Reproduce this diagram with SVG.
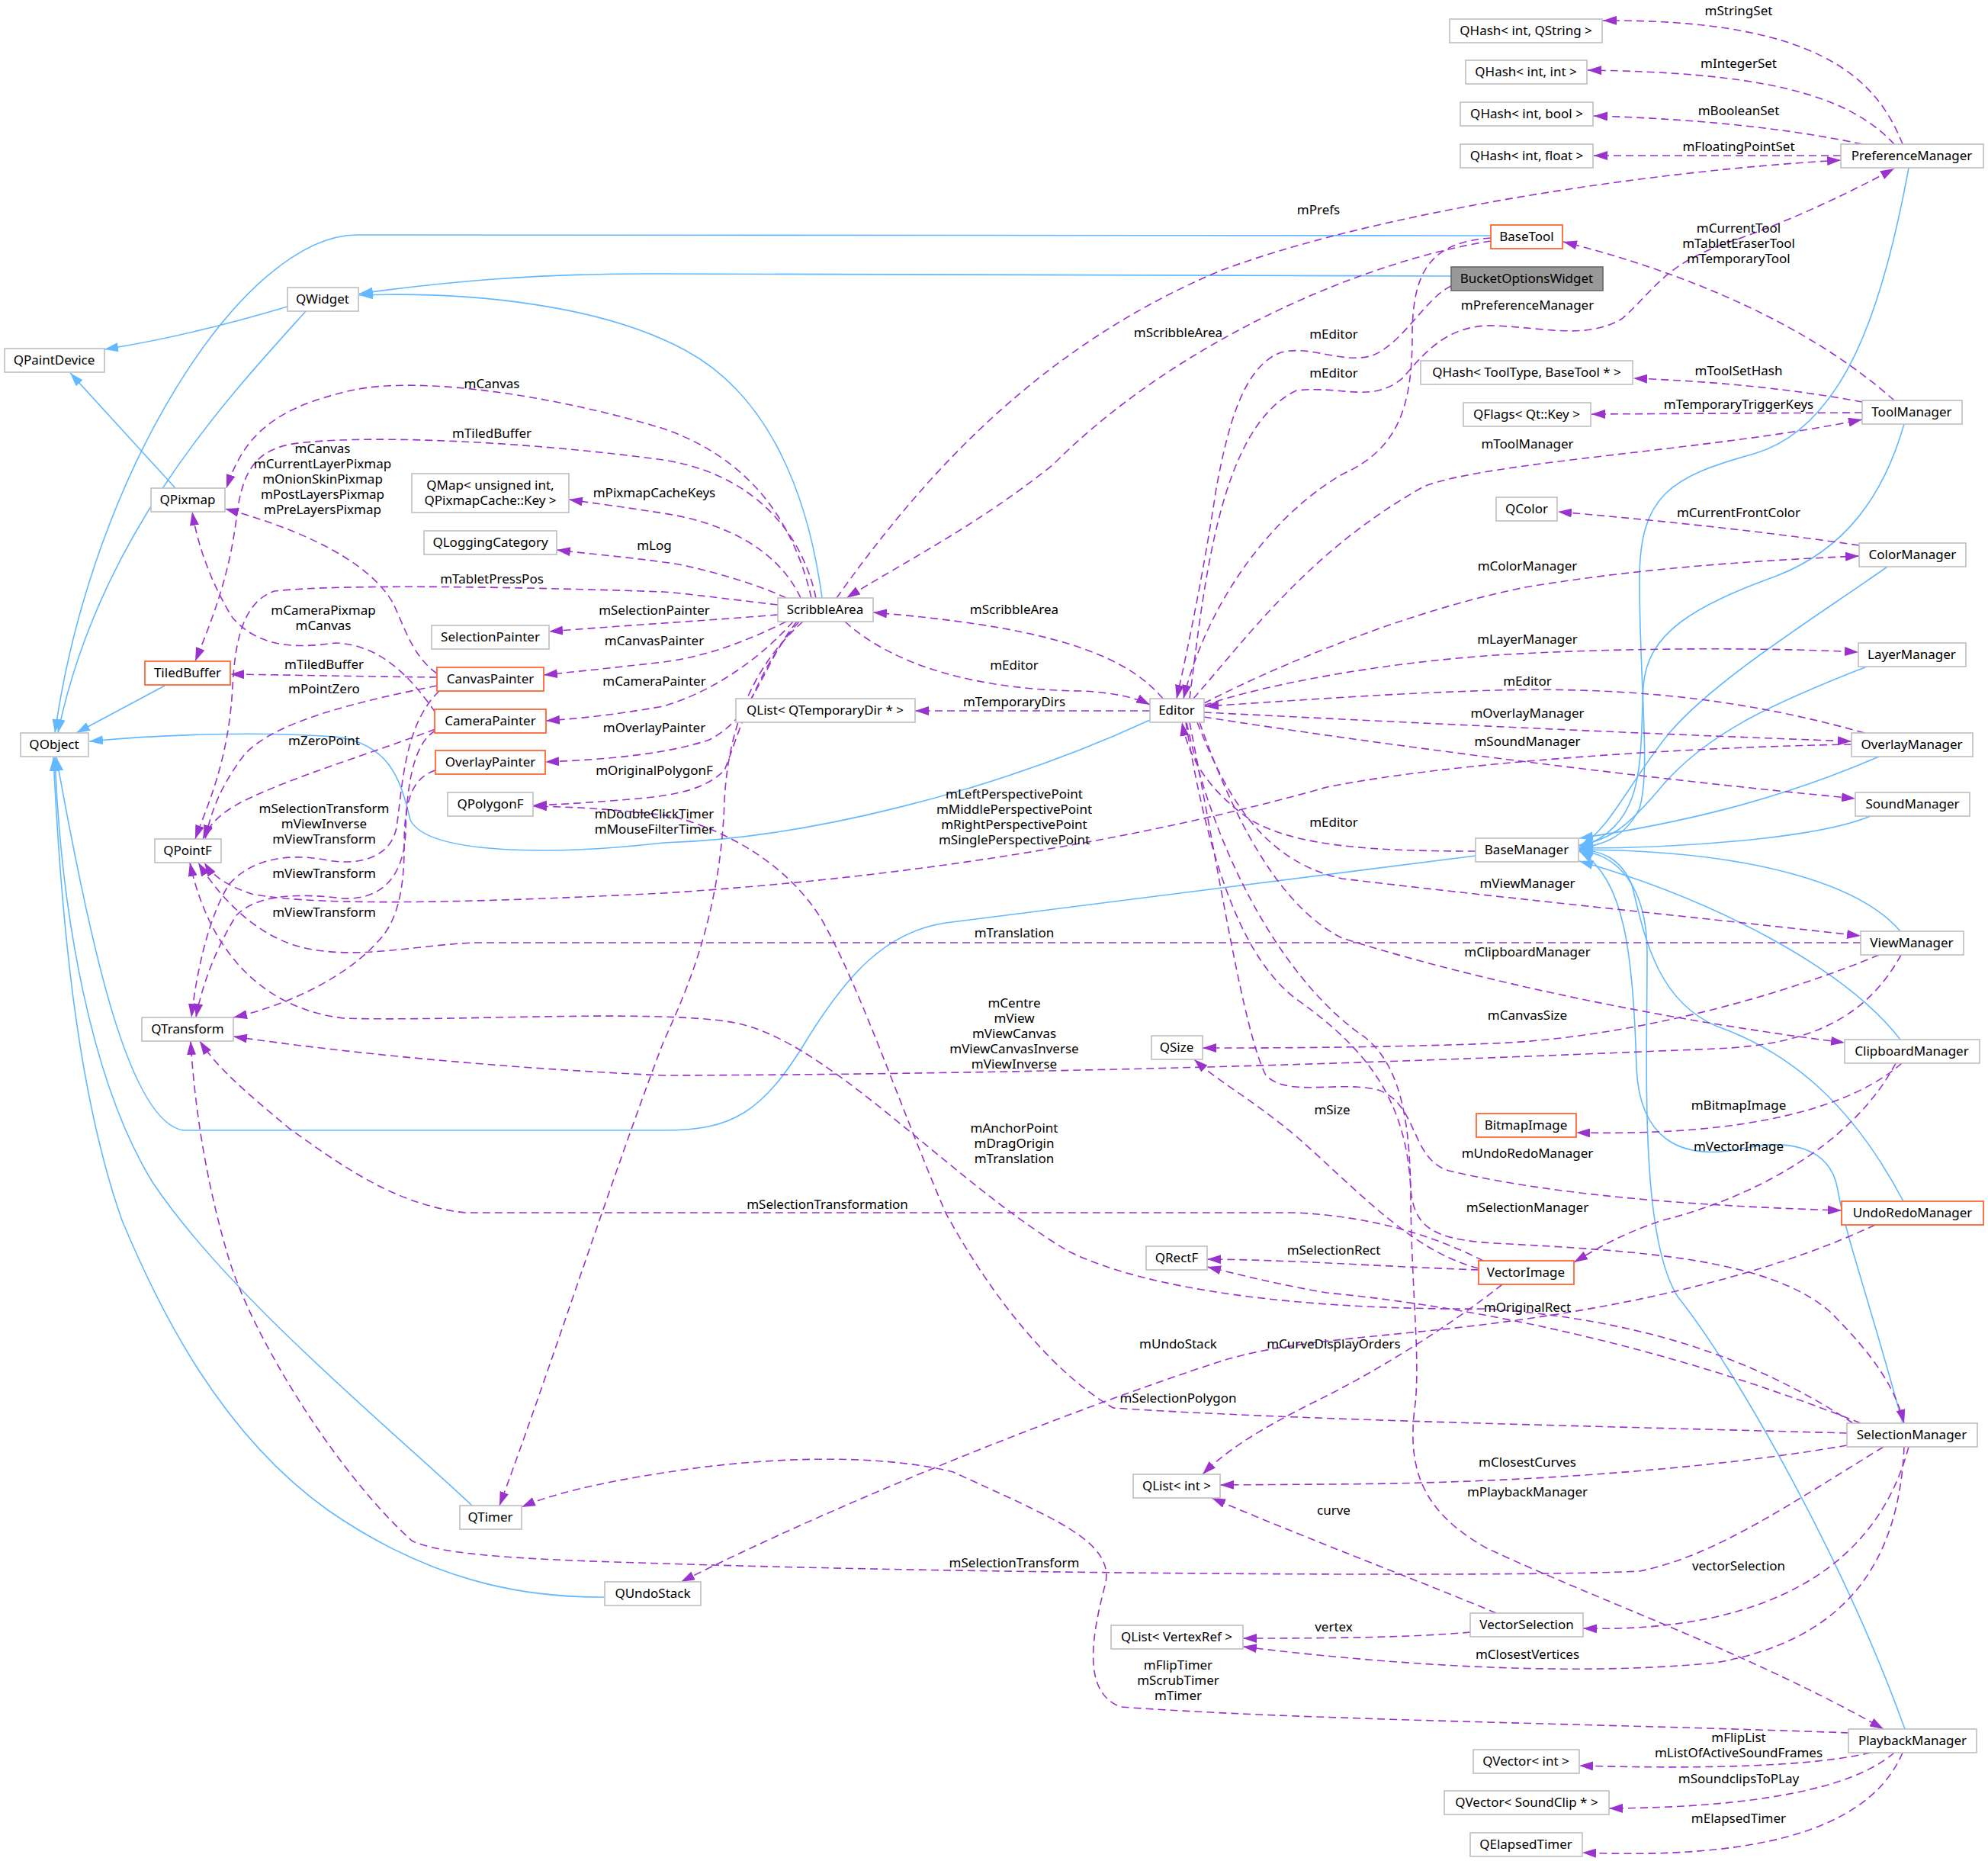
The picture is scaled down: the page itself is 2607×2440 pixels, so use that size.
<svg xmlns="http://www.w3.org/2000/svg" width="2607" height="2440" viewBox="0 0 2607 2440">
<style>
.bg{fill:#ffffff}
.n rect{fill:#ffffff;stroke:#bfbfbf;stroke-width:1.6}
.o rect{fill:#ffffff;stroke:#ff6633;stroke-width:1.8}
.g rect{fill:#999999;stroke:#666666;stroke-width:1.6}
text{font-family:"Noto Sans","Liberation Sans",sans-serif;font-size:17px;fill:#000000;text-anchor:middle}
.i{fill:none;stroke:#63b8ff;stroke-width:1.6}
.u{fill:none;stroke:#9a32cd;stroke-width:1.6;stroke-dasharray:10,6}
</style>
<defs>
<marker id="ai" markerUnits="userSpaceOnUse" markerWidth="18" markerHeight="12" viewBox="0 0 18 12" refX="18" refY="6" orient="auto"><path d="M0,0 L18,6 L0,12 z" fill="#63b8ff"/></marker>
<marker id="au" markerUnits="userSpaceOnUse" markerWidth="18" markerHeight="12" viewBox="0 0 18 12" refX="18" refY="6" orient="auto"><path d="M0,0 L18,6 L0,12 z" fill="#9a32cd"/></marker>
</defs>
<rect class="bg" x="0" y="0" width="2607" height="2440"/>
<g id="connectors">
<g id="inherit" marker-end="url(#ai)">
<path class="i" d="M377,402 C300,425 220,445 137,458"/>
<path class="i" d="M401,408 C300,520 130,700 76,961"/>
<path class="i" d="M1955,309 L470,308 C320,306 120,620 72,961"/>
<path class="i" d="M1903,362 L870,359 C700,358 580,370 471,385"/>
<path class="i" d="M1078,784 C1060,650 1010,520 900,460 C790,400 620,382 471,387"/>
<path class="i" d="M216,899 L100,961"/>
<path class="i" d="M230,640 L92,489"/>
<path class="i" d="M1508,944 C1300,1040 1050,1100 870,1105 C720,1122 560,1120 538,1075 C525,1020 510,975 440,966 C330,958 200,964 117,972"/>
<path class="i" d="M1935,1122 L1240,1210 C1160,1222 1110,1280 1060,1360 C1000,1460 960,1482 870,1482 L240,1482 C170,1470 120,1250 74,993"/>
<path class="i" d="M619,1974 C520,1880 300,1700 200,1550 C120,1420 80,1200 72,993"/>
<path class="i" d="M793,2094 C680,2095 560,2070 430,1980 C290,1880 210,1720 160,1600 C100,1430 80,1200 70,993"/>
<path class="i" d="M2503,220 C2470,400 2420,560 2300,595 C2190,625 2150,650 2150,760 C2150,900 2165,1010 2150,1060 C2130,1100 2100,1108 2071,1112"/>
<path class="i" d="M2497,556 C2470,650 2420,720 2330,755 C2220,795 2160,830 2155,900 C2150,1000 2160,1080 2071,1112"/>
<path class="i" d="M2475,743 C2380,810 2250,890 2190,960 C2140,1020 2110,1090 2071,1110"/>
<path class="i" d="M2448,874 C2330,920 2240,960 2180,1030 C2130,1090 2110,1100 2071,1108"/>
<path class="i" d="M2464,992 C2330,1050 2200,1080 2071,1099"/>
<path class="i" d="M2453,1070 C2380,1100 2200,1112 2071,1112"/>
<path class="i" d="M2492,1221 C2440,1160 2300,1115 2071,1114"/>
<path class="i" d="M2492,1363 C2420,1270 2250,1180 2071,1129"/>
<path class="i" d="M2496,1575 C2430,1450 2350,1380 2250,1345 C2170,1310 2155,1220 2140,1160 C2125,1125 2100,1115 2071,1114"/>
<path class="i" d="M2495,1866 C2450,1700 2420,1620 2410,1560 C2400,1500 2340,1495 2290,1505 C2200,1525 2150,1490 2146,1400 C2142,1250 2130,1150 2071,1116"/>
<path class="i" d="M2498,2267 C2420,2050 2280,1800 2200,1700 C2150,1620 2160,1400 2160,1250 C2160,1160 2120,1120 2071,1115"/>
</g>
<g id="usage" marker-end="url(#au)">
<path class="u" d="M2495,189 C2460,100 2380,25 2102,27"/>
<path class="u" d="M2484,189 C2420,120 2300,95 2082,92"/>
<path class="u" d="M2442,189 C2330,165 2200,155 2090,152"/>
<path class="u" d="M2414,204 L2090,204"/>
<path class="u" d="M1097,784 C1200,640 1350,460 1600,355 C1800,280 2150,225 2414,210"/>
<path class="u" d="M1955,316 C1800,340 1550,440 1380,610 C1280,690 1180,740 1110,784"/>
<path class="u" d="M1903,375 C1870,390 1840,450 1800,466 C1760,478 1720,452 1680,462 C1630,480 1610,560 1595,640 C1580,740 1560,840 1543,916"/>
<path class="u" d="M1955,312 C1880,318 1852,350 1852,440 C1852,540 1830,590 1760,622 C1660,680 1580,800 1552,916"/>
<path class="u" d="M1560,916 C1580,760 1600,560 1700,512 C1760,505 1800,530 1840,495 C1870,460 1900,425 1960,427 C2030,430 2080,445 2127,418 C2170,380 2180,350 2260,320 C2350,290 2440,245 2484,221"/>
<path class="u" d="M2484,525 C2400,450 2260,370 2050,317"/>
<path class="u" d="M2442,527 C2350,510 2250,500 2142,496"/>
<path class="u" d="M2442,541 L2087,543"/>
<path class="u" d="M1565,916 C1640,830 1720,720 1867,638 C1950,605 2250,590 2442,550"/>
<path class="u" d="M2438,715 C2300,695 2150,680 2043,671"/>
<path class="u" d="M1579,922 C1680,870 1850,800 2000,770 C2150,745 2300,735 2438,729"/>
<path class="u" d="M1579,925 C1650,900 1800,870 1961,859 C2100,850 2300,848 2437,855"/>
<path class="u" d="M2445,961 C2300,920 2150,900 1961,905 C1800,910 1680,920 1580,926"/>
<path class="u" d="M1579,934 C1800,945 2100,960 2428,972"/>
<path class="u" d="M1579,940 C1800,975 2150,1020 2433,1047"/>
<path class="u" d="M2428,976 C2200,980 1900,1000 1740,1032 C1500,1100 1200,1150 870,1171 C650,1182 420,1190 330,1172 C300,1162 280,1150 268,1131"/>
<path class="u" d="M2440,1236 L620,1236 C540,1240 470,1258 400,1243 C340,1230 290,1180 260,1131"/>
<path class="u" d="M1935,1116 C1800,1116 1700,1110 1640,1075 C1590,1040 1560,1000 1550,947"/>
<path class="u" d="M1570,947 C1610,1050 1660,1130 1760,1152 C1950,1175 2200,1200 2440,1227"/>
<path class="u" d="M2464,1252 C2350,1300 2150,1360 1960,1368 C1800,1374 1650,1374 1577,1374"/>
<path class="u" d="M2493,1252 C2450,1330 2380,1370 2250,1375 C2000,1385 1500,1408 870,1410 C650,1400 450,1380 306,1359"/>
<path class="u" d="M1573,947 C1620,1080 1680,1190 1760,1230 C1950,1290 2200,1340 2419,1367"/>
<path class="u" d="M2494,1394 C2430,1450 2300,1490 2067,1485"/>
<path class="u" d="M2486,1394 C2430,1500 2300,1570 2180,1600 C2120,1620 2090,1640 2064,1655"/>
<path class="u" d="M1560,947 C1600,1150 1630,1350 1660,1410 C1690,1440 1760,1415 1810,1430 C1860,1450 1850,1520 1900,1535 C2050,1570 2250,1582 2415,1587"/>
<path class="u" d="M1555,947 C1580,1100 1620,1250 1700,1310 C1800,1380 1845,1450 1850,1560 C1855,1610 1880,1625 1960,1630 C2150,1640 2320,1650 2400,1720 C2460,1780 2485,1820 2497,1866"/>
<path class="u" d="M1556,947 C1600,1150 1700,1300 1790,1360 C1840,1400 1850,1480 1850,1580 C1852,1700 1862,1780 1856,1840 C1845,1920 1860,1980 1950,2030 C2100,2100 2300,2170 2470,2267"/>
<path class="u" d="M1939,1663 C1850,1640 1780,1560 1700,1490 C1640,1440 1600,1420 1566,1389"/>
<path class="u" d="M1939,1665 C1800,1660 1700,1652 1583,1651"/>
<path class="u" d="M2440,1866 C2250,1790 2000,1720 1740,1695 C1680,1685 1620,1670 1583,1661"/>
<path class="u" d="M1945,1653 C1880,1620 1800,1595 1700,1590 L610,1590 C520,1580 450,1530 380,1480 C320,1430 285,1400 262,1365"/>
<path class="u" d="M2470,1897 C2350,1970 2250,2040 2150,2060 C2000,2068 1300,2064 870,2050 C700,2045 580,2040 540,2020 C440,1930 330,1750 300,1650 C270,1550 255,1450 250,1365"/>
<path class="u" d="M2430,1866 C2300,1780 2150,1730 1950,1716 C1700,1718 1500,1690 1400,1640 C1250,1550 1100,1380 980,1345 C900,1320 600,1340 450,1335 C330,1320 270,1230 249,1131"/>
<path class="u" d="M2422,1879 C2100,1870 1700,1862 1460,1846 C1380,1800 1300,1700 1240,1590 C1180,1450 1130,1300 1080,1210 C1040,1140 960,1090 880,1070 C800,1060 750,1058 699,1057"/>
<path class="u" d="M1053,815 C990,870 955,950 950,1050 C945,1200 900,1300 870,1366 C800,1550 720,1800 655,1974"/>
<path class="u" d="M2424,2272 C2100,2260 1700,2255 1470,2238 C1420,2220 1430,2150 1450,2075 C1460,2020 1380,1990 1250,1930 C1150,1905 1000,1910 870,1931 C780,1945 720,1960 684,1976"/>
<path class="u" d="M2459,1606 C2300,1680 2100,1720 1900,1742 C1780,1755 1680,1760 1600,1785 C1400,1850 1100,1970 893,2074"/>
<path class="u" d="M1970,1684 C1900,1740 1800,1800 1740,1830 C1680,1860 1620,1890 1577,1933"/>
<path class="u" d="M2422,1895 C2250,1925 2000,1945 1740,1946 L1600,1947"/>
<path class="u" d="M1962,2115 C1880,2080 1720,2020 1589,1964"/>
<path class="u" d="M1928,2140 C1850,2147 1750,2148 1630,2148"/>
<path class="u" d="M2497,1897 C2490,2050 2420,2150 2250,2180 C2050,2200 1800,2180 1630,2159"/>
<path class="u" d="M2503,1897 C2470,2020 2380,2090 2250,2120 C2180,2135 2120,2136 2076,2135"/>
<path class="u" d="M1050,784 C1020,720 950,685 870,673 C820,665 780,660 746,655"/>
<path class="u" d="M1031,784 C980,760 900,740 870,737 C820,730 770,726 730,721"/>
<path class="u" d="M1064,784 C1040,680 980,600 870,562 C750,525 560,490 460,512 C360,535 320,570 297,640"/>
<path class="u" d="M1070,784 C1050,690 980,620 870,603 C700,580 500,570 400,580 C340,585 318,610 310,680 C300,760 275,820 256,867"/>
<path class="u" d="M1020,793 C950,785 900,778 870,776 C700,770 450,765 360,775 C315,790 308,850 305,900 C300,1000 270,1060 256,1100"/>
<path class="u" d="M1020,806 C950,812 820,820 720,828"/>
<path class="u" d="M1031,815 C980,840 930,860 870,868 C800,876 760,880 713,885"/>
<path class="u" d="M1040,815 C1000,860 940,905 870,926 C800,938 760,942 716,945"/>
<path class="u" d="M1045,815 C1000,870 990,940 930,970 C870,990 790,996 715,999"/>
<path class="u" d="M1048,815 C990,880 970,960 950,1010 C920,1040 870,1045 800,1050 C760,1053 730,1055 699,1056"/>
<path class="u" d="M1525,916 C1470,850 1350,820 1145,803"/>
<path class="u" d="M1108,815 C1180,880 1300,905 1420,906 C1460,908 1490,915 1508,924"/>
<path class="u" d="M1508,932 L1200,932"/>
<path class="u" d="M573,883 C540,860 530,820 515,790 C480,730 380,690 295,667"/>
<path class="u" d="M571,934 C540,890 500,845 440,843 C390,850 340,850 305,810 C280,770 260,720 252,671"/>
<path class="u" d="M573,888 C480,887 380,885 302,884"/>
<path class="u" d="M573,899 C470,920 360,945 320,990 C290,1030 278,1060 269,1100"/>
<path class="u" d="M571,956 C480,990 380,1020 320,1050 C290,1065 275,1080 266,1100"/>
<path class="u" d="M576,906 C530,950 528,1030 520,1085 C512,1125 470,1135 430,1128 C380,1118 330,1125 300,1160 C275,1200 258,1270 251,1334"/>
<path class="u" d="M571,958 C540,975 533,1040 532,1090 C530,1150 500,1180 450,1178 C400,1172 340,1170 310,1200 C285,1240 265,1290 257,1334"/>
<path class="u" d="M571,1010 C540,1020 530,1050 530,1110 C530,1170 520,1210 495,1235 C450,1285 370,1320 306,1334"/>
<path class="u" d="M2453,2298 C2380,2315 2250,2320 2071,2315"/>
<path class="u" d="M2484,2298 C2430,2345 2300,2370 2110,2371"/>
<path class="u" d="M2495,2298 C2460,2380 2350,2440 2075,2429"/>
</g>
<g id="edge-labels">
<text x="2280" y="20">mStringSet</text>
<text x="2280" y="89">mIntegerSet</text>
<text x="2280" y="151">mBooleanSet</text>
<text x="2280" y="198">mFloatingPointSet</text>
<text x="1729" y="281">mPrefs</text>
<text x="2280" y="305">mCurrentTool<tspan x="2280" dy="20">mTabletEraserTool</tspan><tspan x="2280" dy="20">mTemporaryTool</tspan></text>
<text x="2003" y="406">mPreferenceManager</text>
<text x="1545" y="442">mScribbleArea</text>
<text x="1749" y="444">mEditor</text>
<text x="1749" y="495">mEditor</text>
<text x="2280" y="492">mToolSetHash</text>
<text x="2280" y="536">mTemporaryTriggerKeys</text>
<text x="2003" y="588">mToolManager</text>
<text x="645" y="509">mCanvas</text>
<text x="645" y="574">mTiledBuffer</text>
<text x="423" y="594">mCanvas<tspan x="423" dy="20">mCurrentLayerPixmap</tspan><tspan x="423" dy="20">mOnionSkinPixmap</tspan><tspan x="423" dy="20">mPostLayersPixmap</tspan><tspan x="423" dy="20">mPreLayersPixmap</tspan></text>
<text x="858" y="652">mPixmapCacheKeys</text>
<text x="858" y="721">mLog</text>
<text x="645" y="765">mTabletPressPos</text>
<text x="424" y="806">mCameraPixmap<tspan x="424" dy="20">mCanvas</tspan></text>
<text x="858" y="806">mSelectionPainter</text>
<text x="858" y="846">mCanvasPainter</text>
<text x="425" y="877">mTiledBuffer</text>
<text x="858" y="899">mCameraPainter</text>
<text x="425" y="909">mPointZero</text>
<text x="858" y="960">mOverlayPainter</text>
<text x="425" y="977">mZeroPoint</text>
<text x="858" y="1016">mOriginalPolygonF</text>
<text x="425" y="1066">mSelectionTransform<tspan x="425" dy="20">mViewInverse</tspan><tspan x="425" dy="20">mViewTransform</tspan></text>
<text x="858" y="1073">mDoubleClickTimer<tspan x="858" dy="20">mMouseFilterTimer</tspan></text>
<text x="425" y="1151">mViewTransform</text>
<text x="425" y="1202">mViewTransform</text>
<text x="1330" y="805">mScribbleArea</text>
<text x="1330" y="878">mEditor</text>
<text x="1330" y="926">mTemporaryDirs</text>
<text x="1330" y="1047">mLeftPerspectivePoint<tspan x="1330" dy="20">mMiddlePerspectivePoint</tspan><tspan x="1330" dy="20">mRightPerspectivePoint</tspan><tspan x="1330" dy="20">mSinglePerspectivePoint</tspan></text>
<text x="1330" y="1229">mTranslation</text>
<text x="2280" y="678">mCurrentFrontColor</text>
<text x="2003" y="748">mColorManager</text>
<text x="2003" y="844">mLayerManager</text>
<text x="2003" y="899">mEditor</text>
<text x="2003" y="941">mOverlayManager</text>
<text x="2003" y="978">mSoundManager</text>
<text x="1749" y="1084">mEditor</text>
<text x="2003" y="1164">mViewManager</text>
<text x="2003" y="1254">mClipboardManager</text>
<text x="1330" y="1321">mCentre<tspan x="1330" dy="20">mView</tspan><tspan x="1330" dy="20">mViewCanvas</tspan><tspan x="1330" dy="20">mViewCanvasInverse</tspan><tspan x="1330" dy="20">mViewInverse</tspan></text>
<text x="2003" y="1337">mCanvasSize</text>
<text x="2280" y="1455">mBitmapImage</text>
<text x="1747" y="1461">mSize</text>
<text x="1330" y="1485">mAnchorPoint<tspan x="1330" dy="20">mDragOrigin</tspan><tspan x="1330" dy="20">mTranslation</tspan></text>
<text x="2280" y="1509">mVectorImage</text>
<text x="2003" y="1518">mUndoRedoManager</text>
<text x="1085" y="1585">mSelectionTransformation</text>
<text x="2003" y="1589">mSelectionManager</text>
<text x="1749" y="1645">mSelectionRect</text>
<text x="2003" y="1720">mOriginalRect</text>
<text x="1545" y="1768">mUndoStack</text>
<text x="1749" y="1768">mCurveDisplayOrders</text>
<text x="1545" y="1839">mSelectionPolygon</text>
<text x="2003" y="1923">mClosestCurves</text>
<text x="2003" y="1962">mPlaybackManager</text>
<text x="1749" y="1986">curve</text>
<text x="1330" y="2055">mSelectionTransform</text>
<text x="2280" y="2059">vectorSelection</text>
<text x="1749" y="2139">vertex</text>
<text x="2003" y="2175">mClosestVertices</text>
<text x="1545" y="2189">mFlipTimer<tspan x="1545" dy="20">mScrubTimer</tspan><tspan x="1545" dy="20">mTimer</tspan></text>
<text x="2280" y="2284">mFlipList<tspan x="2280" dy="20">mListOfActiveSoundFrames</tspan></text>
<text x="2280" y="2338">mSoundclipsToPLay</text>
<text x="2280" y="2390">mElapsedTimer</text>
</g>
</g>
<g id="n_QHashIntQString" class="n"><rect x="1901" y="25" width="200" height="31"/><text x="2001" y="46">QHash&lt; int, QString &gt;</text></g>
<g id="n_QHashIntInt" class="n"><rect x="1922" y="79" width="159" height="31"/><text x="2001" y="100">QHash&lt; int, int &gt;</text></g>
<g id="n_QHashIntBool" class="n"><rect x="1915" y="134" width="174" height="31"/><text x="2002" y="155">QHash&lt; int, bool &gt;</text></g>
<g id="n_QHashIntFloat" class="n"><rect x="1915" y="189" width="174" height="31"/><text x="2002" y="210">QHash&lt; int, float &gt;</text></g>
<g id="n_PreferenceManager" class="n"><rect x="2414" y="189" width="187" height="31"/><text x="2507" y="210">PreferenceManager</text></g>
<g id="n_BaseTool" class="o"><rect x="1955" y="295" width="94" height="31"/><text x="2002" y="316">BaseTool</text></g>
<g id="n_BucketOptionsWidget" class="g"><rect x="1903" y="350" width="199" height="31"/><text x="2002" y="371">BucketOptionsWidget</text></g>
<g id="n_QHashToolType" class="n"><rect x="1863" y="473" width="278" height="31"/><text x="2002" y="494">QHash&lt; ToolType, BaseTool * &gt;</text></g>
<g id="n_QFlags" class="n"><rect x="1919" y="528" width="167" height="31"/><text x="2002" y="549">QFlags&lt; Qt::Key &gt;</text></g>
<g id="n_ToolManager" class="n"><rect x="2442" y="525" width="131" height="31"/><text x="2507" y="546">ToolManager</text></g>
<g id="n_QWidget" class="n"><rect x="377" y="377" width="93" height="31"/><text x="423" y="398">QWidget</text></g>
<g id="n_QPaintDevice" class="n"><rect x="6" y="457" width="131" height="31"/><text x="71" y="478">QPaintDevice</text></g>
<g id="n_QPixmap" class="n"><rect x="198" y="640" width="97" height="31"/><text x="246" y="661">QPixmap</text></g>
<g id="n_QMap" class="n"><rect x="540" y="621" width="206" height="51"/><text x="643" y="642">QMap&lt; unsigned int,<tspan x="643" dy="20">QPixmapCache::Key &gt;</tspan></text></g>
<g id="n_QLoggingCategory" class="n"><rect x="556" y="696" width="174" height="31"/><text x="643" y="717">QLoggingCategory</text></g>
<g id="n_SelectionPainter" class="n"><rect x="566" y="820" width="154" height="31"/><text x="643" y="841">SelectionPainter</text></g>
<g id="n_TiledBuffer" class="o"><rect x="190" y="867" width="112" height="31"/><text x="246" y="888">TiledBuffer</text></g>
<g id="n_CanvasPainter" class="o"><rect x="573" y="875" width="140" height="31"/><text x="643" y="896">CanvasPainter</text></g>
<g id="n_CameraPainter" class="o"><rect x="570" y="930" width="146" height="31"/><text x="643" y="951">CameraPainter</text></g>
<g id="n_OverlayPainter" class="o"><rect x="571" y="984" width="144" height="31"/><text x="643" y="1005">OverlayPainter</text></g>
<g id="n_QPolygonF" class="n"><rect x="587" y="1039" width="112" height="31"/><text x="643" y="1060">QPolygonF</text></g>
<g id="n_QObject" class="n"><rect x="27" y="961" width="89" height="31"/><text x="71" y="982">QObject</text></g>
<g id="n_QPointF" class="n"><rect x="203" y="1100" width="87" height="31"/><text x="246" y="1121">QPointF</text></g>
<g id="n_ScribbleArea" class="n"><rect x="1020" y="784" width="125" height="31"/><text x="1082" y="805">ScribbleArea</text></g>
<g id="n_QListQTemporaryDir" class="n"><rect x="965" y="916" width="235" height="31"/><text x="1082" y="937">QList&lt; QTemporaryDir * &gt;</text></g>
<g id="n_Editor" class="n"><rect x="1508" y="916" width="71" height="31"/><text x="1543" y="937">Editor</text></g>
<g id="n_QColor" class="n"><rect x="1962" y="652" width="80" height="31"/><text x="2002" y="673">QColor</text></g>
<g id="n_ColorManager" class="n"><rect x="2438" y="712" width="140" height="31"/><text x="2508" y="733">ColorManager</text></g>
<g id="n_LayerManager" class="n"><rect x="2437" y="843" width="141" height="31"/><text x="2507" y="864">LayerManager</text></g>
<g id="n_OverlayManager" class="n"><rect x="2428" y="961" width="159" height="31"/><text x="2507" y="982">OverlayManager</text></g>
<g id="n_SoundManager" class="n"><rect x="2433" y="1039" width="150" height="31"/><text x="2508" y="1060">SoundManager</text></g>
<g id="n_BaseManager" class="n"><rect x="1935" y="1099" width="135" height="31"/><text x="2002" y="1120">BaseManager</text></g>
<g id="n_ViewManager" class="n"><rect x="2440" y="1221" width="135" height="31"/><text x="2507" y="1242">ViewManager</text></g>
<g id="n_QTransform" class="n"><rect x="186" y="1334" width="120" height="31"/><text x="246" y="1355">QTransform</text></g>
<g id="n_QSize" class="n"><rect x="1510" y="1358" width="67" height="31"/><text x="1543" y="1379">QSize</text></g>
<g id="n_ClipboardManager" class="n"><rect x="2419" y="1363" width="177" height="31"/><text x="2507" y="1384">ClipboardManager</text></g>
<g id="n_BitmapImage" class="o"><rect x="1936" y="1460" width="131" height="31"/><text x="2001" y="1481">BitmapImage</text></g>
<g id="n_UndoRedoManager" class="o"><rect x="2415" y="1575" width="186" height="31"/><text x="2508" y="1596">UndoRedoManager</text></g>
<g id="n_QRectF" class="n"><rect x="1503" y="1634" width="80" height="31"/><text x="1543" y="1655">QRectF</text></g>
<g id="n_VectorImage" class="o"><rect x="1939" y="1653" width="125" height="31"/><text x="2001" y="1674">VectorImage</text></g>
<g id="n_SelectionManager" class="n"><rect x="2422" y="1866" width="171" height="31"/><text x="2507" y="1887">SelectionManager</text></g>
<g id="n_QListInt" class="n"><rect x="1486" y="1933" width="114" height="31"/><text x="1543" y="1954">QList&lt; int &gt;</text></g>
<g id="n_QTimer" class="n"><rect x="603" y="1974" width="81" height="31"/><text x="643" y="1995">QTimer</text></g>
<g id="n_QUndoStack" class="n"><rect x="793" y="2074" width="126" height="31"/><text x="856" y="2095">QUndoStack</text></g>
<g id="n_QListVertexRef" class="n"><rect x="1457" y="2131" width="173" height="31"/><text x="1543" y="2152">QList&lt; VertexRef &gt;</text></g>
<g id="n_VectorSelection" class="n"><rect x="1928" y="2115" width="148" height="31"/><text x="2002" y="2136">VectorSelection</text></g>
<g id="n_PlaybackManager" class="n"><rect x="2424" y="2267" width="168" height="31"/><text x="2508" y="2288">PlaybackManager</text></g>
<g id="n_QVectorInt" class="n"><rect x="1932" y="2294" width="139" height="31"/><text x="2001" y="2315">QVector&lt; int &gt;</text></g>
<g id="n_QVectorSoundClip" class="n"><rect x="1894" y="2348" width="216" height="31"/><text x="2002" y="2369">QVector&lt; SoundClip * &gt;</text></g>
<g id="n_QElapsedTimer" class="n"><rect x="1928" y="2403" width="147" height="31"/><text x="2001" y="2424">QElapsedTimer</text></g>
</svg>
